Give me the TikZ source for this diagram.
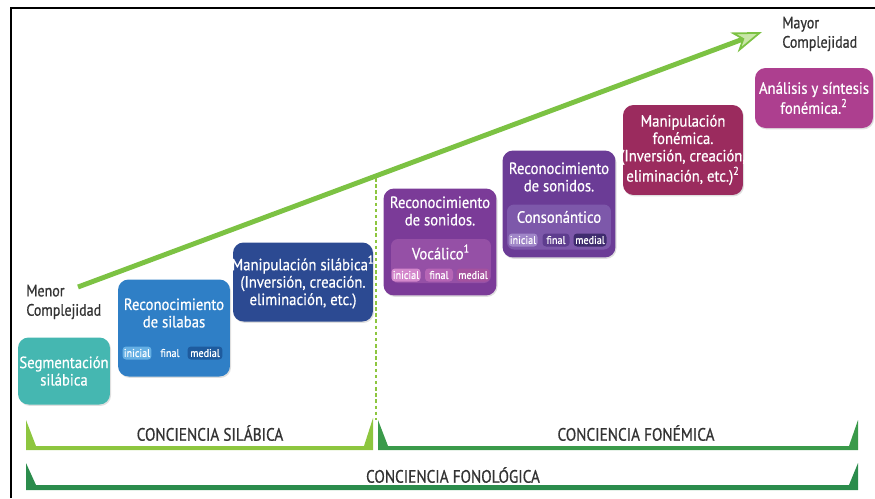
\documentclass[tikz,border=0pt]{standalone}
\usepackage{fontspec}
\setmainfont{PT Sans}
\newfontfamily\boxfont[FakeStretch=0.9, FakeBold=0.6]{PT Sans}
\newfontfamily\narrowfont[FakeStretch=0.85, FakeBold=0.8]{PT Sans}
\usetikzlibrary{arrows.meta,positioning,shadows}

\definecolor{txtgray}{HTML}{333333}
\definecolor{trendgreen}{HTML}{7CC243}
\definecolor{trendlight}{HTML}{C9E6A8}
\definecolor{segcol}{HTML}{45B7B1}
\definecolor{recsilcol}{HTML}{2F7FC6}
\definecolor{recsilA}{HTML}{66B0E4}
\definecolor{recsilC}{HTML}{1E5B9E}
\definecolor{mansilcol}{HTML}{2C4A92}
\definecolor{voccol}{HTML}{7B3B98}
\definecolor{vocin}{HTML}{9550A6}
\definecolor{vocA}{HTML}{D488CC}
\definecolor{vocB}{HTML}{B665B5}
\definecolor{vocC}{HTML}{A5529F}
\definecolor{conscol}{HTML}{6B3C96}
\definecolor{consin}{HTML}{7D58AA}
\definecolor{consA}{HTML}{A086C8}
\definecolor{consB}{HTML}{5E3D8E}
\definecolor{consC}{HTML}{3F2C6E}
\definecolor{manfoncol}{HTML}{9B2B5E}
\definecolor{analcol}{HTML}{AD3F8F}
\definecolor{silgreen}{HTML}{8DC63F}
\definecolor{fongreen}{HTML}{3A9A4A}
\definecolor{fonolgreen}{HTML}{2B8C4C}

\begin{document}
\begin{tikzpicture}[x=0.02cm, y=-0.02cm,
    box/.style = {rounded corners=6pt, inner sep=0pt,
      drop shadow={opacity=0.25, shadow xshift=0.6pt, shadow yshift=-0.8pt}},
    inbox/.style = {rounded corners=4pt, inner sep=0pt},
    title/.style = {text=white, align=center, inner sep=0pt,
      font=\boxfont\fontsize{9.3}{9.9}\selectfont},
    tag/.style = {rounded corners=2pt, text=white, inner sep=0pt,
      minimum height=0.26cm, font=\boxfont\fontsize{6.4}{6.6}\selectfont},
    side/.style = {text=txtgray, align=left, anchor=west, inner sep=0pt,
      font=\narrowfont\fontsize{9.4}{11}\selectfont},
    level/.style = {text=txtgray, inner sep=0pt,
      font=\narrowfont\fontsize{10.2}{11}\selectfont},
    trend/.style = {draw=trendgreen, line width=2.8pt,
      -{Stealth[length=17pt, width=12pt, inset=5pt, fill=trendlight, line width=1pt]}},
    divider/.style = {draw=silgreen, line width=0.6pt, dash pattern=on 2pt off 1.5pt}]

    \useasboundingbox (0,0) rectangle (875,498);
    \draw[line width=1.2pt] (11,498) -- (11,8) -- (875,8);

    % rising arrow
    \coordinate (lo) at (78,287);
    \coordinate (hi) at (762,32);
    \draw[trend] (lo) -- (hi);

    \node[side] (menor) at (26,302) {Menor\\Complejidad};
    \node[side] (mayor) at (782,34) {Mayor\\Complejidad};

    % silabic side
    \node[box, fill=segcol, minimum width=1.84cm, minimum height=1.34cm] (seg) at (64,371) {};
    \node[title] (segT) at (64,371) {Segmentación\\silábica};

    \node[box, fill=recsilcol, minimum width=2.24cm, minimum height=1.94cm] (recsil) at (174,328) {};
    \node[title] (recsilT) at (174,313) {Reconocimiento\\de silabas};
    \node[tag, fill=recsilA, minimum width=0.58cm] (recsil1) at (137,353) {inicial};
    \node[tag, fill=recsilcol, minimum width=0.5cm] (recsil2) at (170,353) {final};
    \node[tag, fill=recsilC, minimum width=0.7cm] (recsil3) at (205,353) {medial};

    \node[box, fill=mansilcol, minimum width=2.8cm, minimum height=1.58cm] (mansil) at (303,282) {};
    \node[title] (mansilT) at (303,282) {Manipulación silábica\textsuperscript{1}\\(Inversión, creación.\\eliminación, etc.)};

    % phonemic side
    \node[box, fill=voccol, minimum width=2.26cm, minimum height=2.14cm] (voc) at (440,242) {};
    \node[title] (vocT) at (440,211) {Reconocimiento\\de sonidos.};
    \node[inbox, fill=vocin, minimum width=2.0cm, minimum height=0.88cm] (vocI) at (441,261) {};
    \node[title] (vocL) at (441,252) {Vocálico\textsuperscript{1}};
    \node[tag, fill=vocA, minimum width=0.58cm] (voc1) at (406,275) {inicial};
    \node[tag, fill=vocB, minimum width=0.56cm] (voc2) at (439,275) {final};
    \node[tag, fill=vocC, minimum width=0.66cm] (voc3) at (473,275) {medial};

    \node[box, fill=conscol, minimum width=2.26cm, minimum height=2.14cm] (cons) at (559,204) {};
    \node[title] (consT) at (559,177) {Reconocimiento\\de sonidos.};
    \node[inbox, fill=consin, minimum width=2.08cm, minimum height=0.9cm] (consI) at (559,227) {};
    \node[title] (consL) at (559,217) {Consonántico};
    \node[tag, fill=consA, minimum width=0.58cm] (cons1) at (523,240) {inicial};
    \node[tag, fill=consB, minimum width=0.54cm] (cons2) at (556,240) {final};
    \node[tag, fill=consC, minimum width=0.66cm] (cons3) at (590,240) {medial};

    \node[box, fill=manfoncol, minimum width=2.4cm, minimum height=1.8cm] (manfon) at (683,150) {};
    \node[title] (manfonT) at (683,150) {Manipulación\\fonémica.\\(Inversión, creación,\\eliminación, etc.)\textsuperscript{2}};

    \node[box, fill=analcol, minimum width=2.36cm, minimum height=1.2cm] (analisis) at (814,98) {};
    \node[title] (analisisT) at (814,98) {Análisis y síntesis\\fonémica.\textsuperscript{2}};

    % divider
    \coordinate (divtop) at (376,178);
    \coordinate (divbot) at (376,420);
    \draw[divider] (divtop) -- (divbot);

    % brackets
    \fill[silgreen] (26,420) -- (36,446) -- (364,446) -- (373,418) -- (373,450) -- (26,450) -- cycle;
    \fill[fongreen] (378,420) -- (388,446) -- (849,446) -- (858,420) -- (858,450) -- (378,450) -- cycle;
    \fill[fonolgreen] (26,463) -- (36,485) -- (849,485) -- (858,463) -- (858,490) -- (26,490) -- cycle;

    \node[level] (silab) at (210,433) {CONCIENCIA SILÁBICA};
    \node[level] (fonem) at (636,433) {CONCIENCIA FONÉMICA};
    \node[level] (fonol) at (453,475) {CONCIENCIA FONOLÓGICA};
\end{tikzpicture}
\end{document}
